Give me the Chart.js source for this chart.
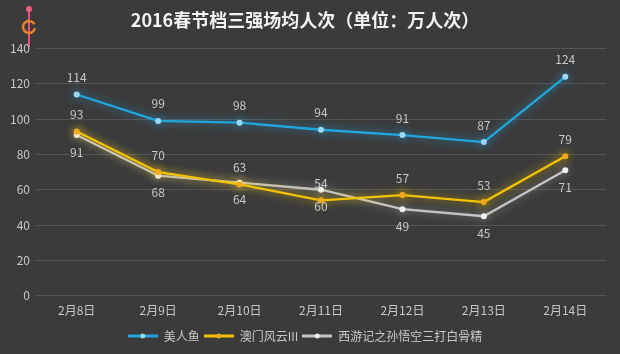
<!DOCTYPE html>
<html><head><meta charset="utf-8">
<script src="https://cdn.jsdelivr.net/npm/chart.js@4.4.1/dist/chart.umd.min.js"></script>
<style>
html,body{margin:0;padding:0;background:#3b3b3b;}
#wrap{width:620px;height:354px;position:relative;}
</style></head><body>
<div id="wrap"><canvas id="c" width="620" height="354"></canvas></div>
<script>
const categories = ['2月8日','2月9日','2月10日','2月11日','2月12日','2月13日','2月14日'];
const seriesNames = ['美人鱼','澳门风云III','西游记之孙悟空三打白骨精'];
const meirenyu = [114, 99, 98, 94, 91, 87, 124];
const aomen = [93, 70, 63, 54, 57, 53, 79];
const xiyouji = [91, 68, 64, 60, 49, 45, 71];
const yTicks = [0, 20, 40, 60, 80, 100, 120, 140];
const titleText = '2016春节档三强场均人次（单位：万人次）';

const FONT = "'Noto Sans CJK SC','Noto Sans',sans-serif";
const lineColors = ['#1fa7de', '#f4c300', '#c4c4c4'];
const pointColors = ['#9bd8f7', '#f2a81c', '#f2f2f2'];
const glowColors = ['rgba(40,170,230,0.75)', 'rgba(245,200,0,0.85)', 'rgba(230,230,230,0.5)'];
const labelPos = ['top', 'top', 'bottom'];

function legendIcon(color, dot) {
  const c = document.createElement('canvas');
  c.width = 30; c.height = 8;
  const x = c.getContext('2d');
  x.strokeStyle = color; x.lineWidth = 3;
  x.beginPath(); x.moveTo(0, 4); x.lineTo(30, 4); x.stroke();
  x.fillStyle = dot; x.beginPath(); x.arc(15, 4, 2.5, 0, Math.PI * 2); x.fill();
  return c;
}
const legendIcons = lineColors.map((c, i) => legendIcon(c, pointColors[i]));

const glowPlugin = {
  id: 'glow',
  beforeDatasetDraw(chart, args) {
    const ctx = chart.ctx;
    ctx.save();
    ctx.shadowColor = glowColors[args.index];
    ctx.shadowBlur = 10;
  },
  afterDatasetDraw(chart) {
    chart.ctx.restore();
  }
};

const labelPlugin = {
  id: 'valueLabels',
  afterDatasetsDraw(chart) {
    const ctx = chart.ctx;
    ctx.save();
    ctx.font = '12px ' + FONT;
    ctx.fillStyle = '#c8c8c8';
    ctx.textAlign = 'center';
    ctx.textBaseline = 'middle';
    chart.data.datasets.forEach((ds, i) => {
      const meta = chart.getDatasetMeta(i);
      meta.data.forEach((pt, j) => {
        const dy = labelPos[i] === 'top' ? -17 : 17;
        ctx.fillText(String(ds.data[j]), pt.x, pt.y + dy);
      });
    });
    ctx.restore();
  }
};

const bgPlugin = {
  id: 'bg',
  beforeDraw(chart) {
    const ctx = chart.ctx;
    ctx.save();
    ctx.fillStyle = '#3b3b3b';
    ctx.fillRect(0, 0, chart.width, chart.height);
    // small logo mark
    ctx.strokeStyle = '#e8507a'; ctx.lineWidth = 2;
    ctx.beginPath(); ctx.moveTo(29, 6); ctx.lineTo(29, 47); ctx.stroke();
    ctx.fillStyle = '#f06080';
    ctx.beginPath(); ctx.arc(29, 9, 3, 0, Math.PI * 2); ctx.fill();
    ctx.strokeStyle = '#e8842a'; ctx.lineWidth = 2.5;
    ctx.beginPath(); ctx.arc(29, 27, 6, 0.2, Math.PI * 1.85); ctx.stroke();
    ctx.restore();
  }
};

new Chart(document.getElementById('c'), {
  type: 'line',
  data: {
    labels: categories,
    datasets: [meirenyu, aomen, xiyouji].map((d, i) => ({
      label: seriesNames[i],
      data: d,
      borderColor: lineColors[i],
      backgroundColor: pointColors[i],
      pointBackgroundColor: pointColors[i],
      pointBorderColor: pointColors[i],
      pointRadius: 3,
      pointBorderWidth: 0,
      pointStyle: 'circle',
      borderWidth: 2.3,
      tension: 0,
      fill: false
    }))
  },
  options: {
    responsive: false,
    animation: false,
    devicePixelRatio: 1,
    layout: { padding: { left: 4, right: 14, top: 6, bottom: 2 } },
    plugins: {
      title: {
        display: true,
        text: titleText,
        color: '#f2f2f2',
        font: { family: FONT, size: 18, weight: 'bold' },
        padding: { top: 3, bottom: 18 }
      },
      legend: {
        position: 'bottom',
        labels: {
          usePointStyle: true,
          pointStyleWidth: 30,
          color: '#c8c8c8',
          font: { family: FONT, size: 12 },
          padding: 4,
          boxHeight: 8,
          generateLabels(chart) {
            const items = Chart.defaults.plugins.legend.labels.generateLabels(chart);
            items.forEach((it) => { it.pointStyle = legendIcons[it.datasetIndex]; it.fontColor = '#c8c8c8'; });
            return items;
          }
        }
      },
      tooltip: { enabled: false }
    },
    scales: {
      x: {
        offset: true,
        grid: { display: false },
        border: { display: false },
        ticks: { color: '#c8c8c8', font: { family: FONT, size: 12 }, padding: 0 },
        afterFit(axis) { axis.height += 8; }
      },
      y: {
        min: 0, max: 140,
        afterBuildTicks(axis) { axis.ticks = yTicks.map(v => ({ value: v })); },
        grid: { color: '#555555', lineWidth: 1, drawTicks: false },
        border: { display: false },
        ticks: { color: '#c8c8c8', font: { family: FONT, size: 12 }, padding: 6 }
      }
    }
  },
  plugins: [bgPlugin, glowPlugin, labelPlugin]
});
</script>
</body></html>
